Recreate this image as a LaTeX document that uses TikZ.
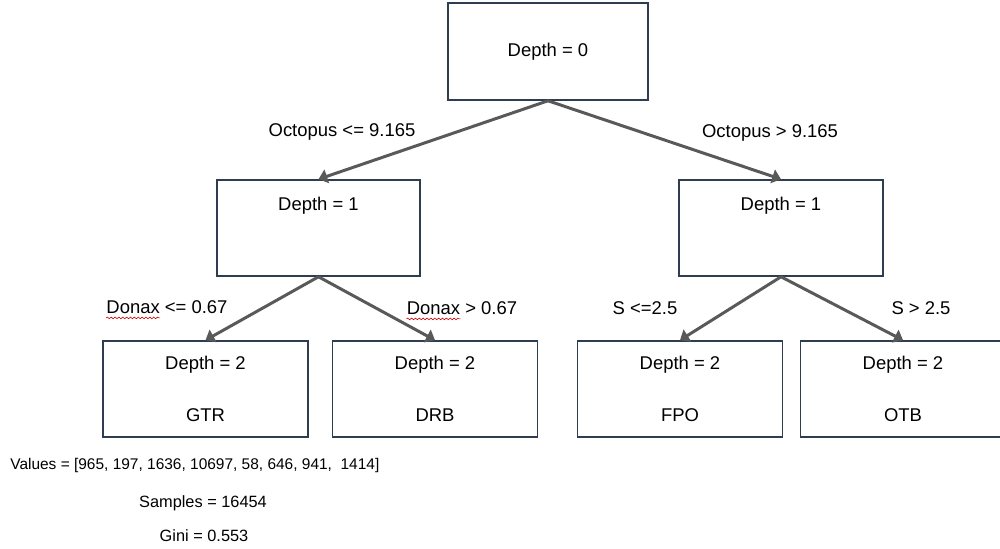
\documentclass[tikz,border=0pt]{standalone}
\usepackage{fontspec}
\setmainfont{Liberation Sans}
\usepackage{tikz}
\usetikzlibrary{arrows.meta, positioning, decorations.pathmorphing}
\definecolor{boxline}{RGB}{46,62,80}
\definecolor{arrowgray}{RGB}{89,89,89}
\tikzset{
    % Tree node boxes - dark slate outline
    depth box/.style={rectangle, draw=boxline, line width=0.9pt, fill=white, minimum width=4.06cm, minimum height=1.92cm, inner sep=0pt},
    % Leaf boxes hold depth and class
    leaf box/.style={depth box, minimum width=4.1cm, align=center, font=\fontsize{10.5}{12.6}\selectfont},
    % Box captions
    box text/.style={inner sep=0pt, font=\fontsize{10.5}{12.6}\selectfont},
    % Split arrows - gray
    split arrow/.style={draw=arrowgray, line width=1.7pt, -{Triangle[length=5pt, width=8pt]}},
    % Split conditions
    split label/.style={inner sep=0pt, font=\fontsize{10.5}{12.6}\selectfont},
    % Spell check mark - red wavy line
    spell mark/.style={red!80!black, line width=0.35pt, decorate, decoration={snake, amplitude=0.45pt, segment length=2.2pt}},
    % Root statistics
    stat text/.style={inner sep=0pt, font=\fontsize{9.3}{11}\selectfont}
}
\begin{document}
\begin{tikzpicture}
    \clip (0,0) rectangle (20,10.98);
    \useasboundingbox (0,0) rectangle (20,10.98);

    % --- Depth 0 ---
    \node[depth box, minimum width=4.0cm, minimum height=1.94cm, font=\fontsize{10.5}{12.6}\selectfont] (root) at (10.96,9.95) {Depth = 0};

    % --- Depth 1 ---
    \node[depth box] (left) at (6.37,6.42) {};
    \node[box text, below=0.36cm of left.north] (lefttext) {Depth = 1};
    \node[depth box, minimum width=4.08cm] (right) at (15.62,6.42) {};
    \node[box text, below=0.36cm of right.north] (righttext) {Depth = 1};

    % --- Depth 2 (leaves) ---
    \node[leaf box] (gtr) at (4.11,3.2) {Depth = 2\\[17pt]GTR};
    \node[leaf box] (drb) at (8.70,3.2) {Depth = 2\\[17pt]DRB};
    \node[leaf box] (fpo) at (13.60,3.2) {Depth = 2\\[17pt]FPO};
    \node[leaf box] (otb) at (18.06,3.2) {Depth = 2\\[17pt]OTB};

    % --- Splits ---
    \draw[split arrow] (root.south) -- (left.north);
    \draw[split arrow] (root.south) -- (right.north);
    \draw[split arrow] (left.south) -- (gtr.north);
    \draw[split arrow] (left.south) -- (drb.north);
    \draw[split arrow] (right.south) -- (fpo.north);
    \draw[split arrow] (right.south) -- (otb.north);

    \node[split label] (octle) at (6.84,8.34) {Octopus <= 9.165};
    \node[split label] (octgt) at (15.40,8.32) {Octopus > 9.165};
    \node[split label] (donle) at (3.34,4.84) {Donax <= 0.67};
    \node[split label] (dongt) at (9.24,4.82) {Donax > 0.67};
    \node[split label] (sle) at (12.90,4.82) {S <=2.5};
    \node[split label] (sgt) at (18.42,4.82) {S > 2.5};

    % red squiggle under Donax
    \draw[spell mark] ([yshift=-2.6pt]donle.base west) -- ++(1.08,0);
    \draw[spell mark] ([yshift=-2.6pt]dongt.base west) -- ++(1.08,0);

    % --- Root statistics ---
    \node[stat text, anchor=west, font=\fontsize{8.8}{10.5}\selectfont] (values) at (0.2,1.66) {Values = [965, 197, 1636, 10697, 58, 646, 941,\ \ 1414]};
    \node[stat text] (samples) at (4.06,0.92) {Samples = 16454};
    \node[stat text] (gini) at (4.08,0.26) {Gini = 0.553};
\end{tikzpicture}
\end{document}
